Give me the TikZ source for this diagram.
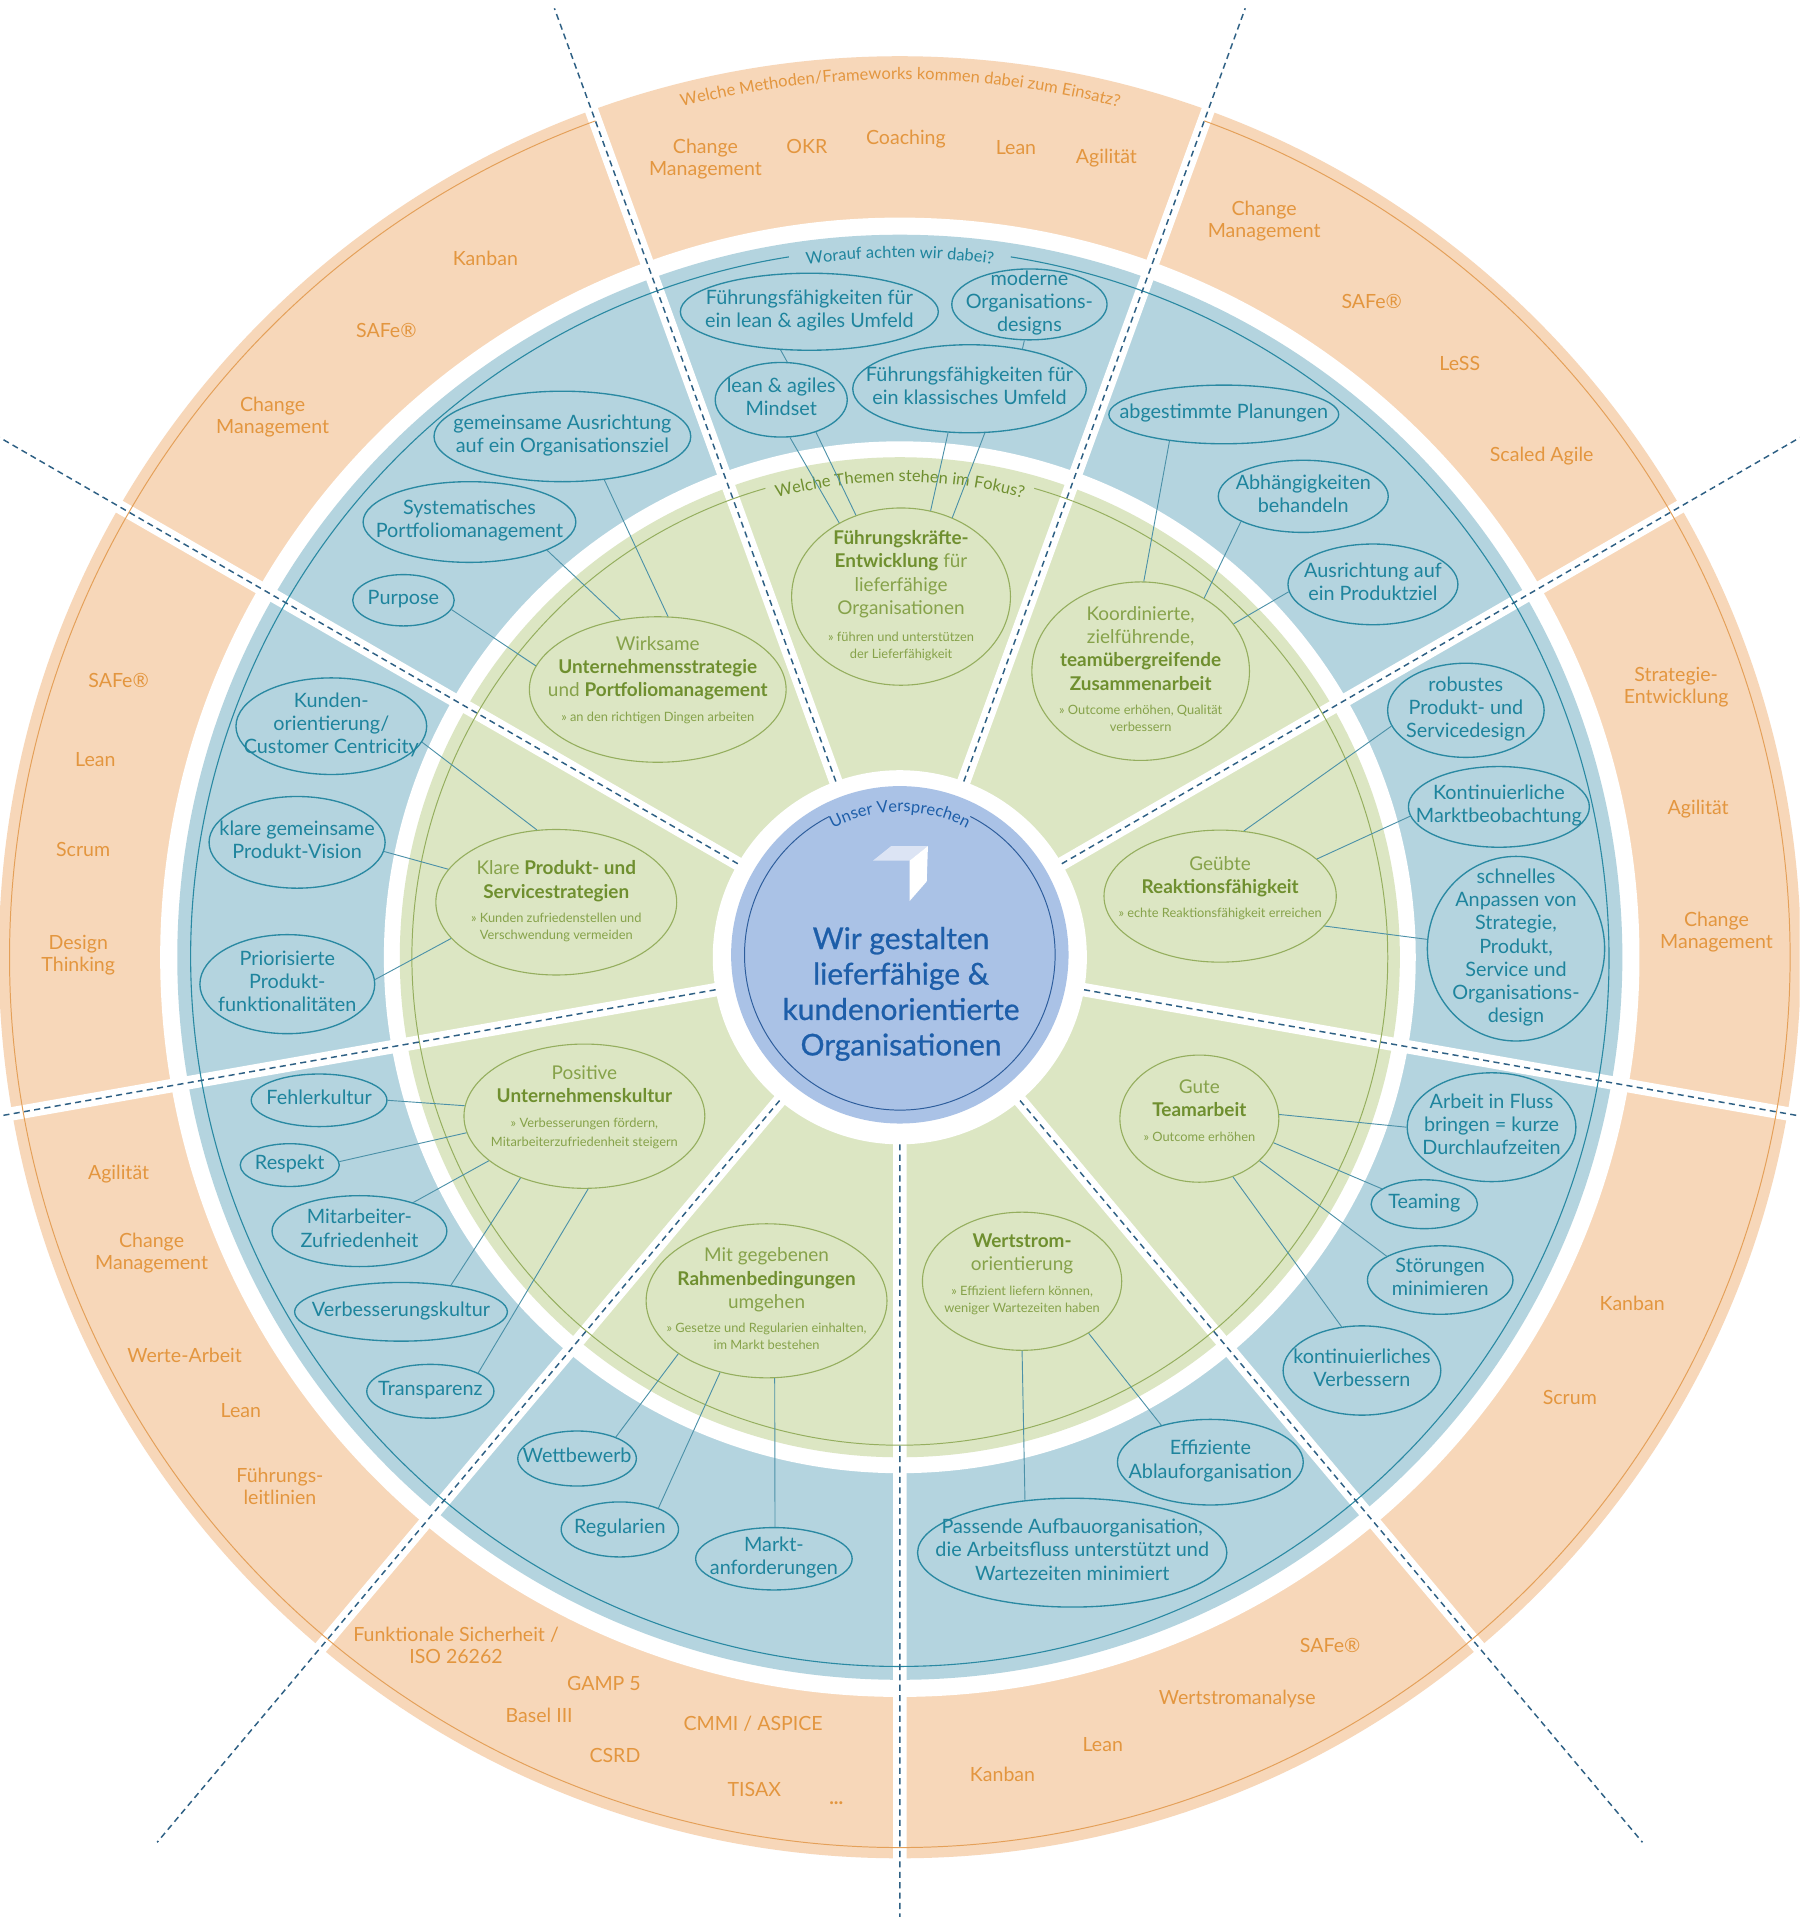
\documentclass[tikz,border=0pt]{standalone}
\usepackage{fontspec}
\setmainfont{Lato}
\usetikzlibrary{shapes.geometric,decorations.text}

\definecolor{orfill}{HTML}{F7D7B9}
\definecolor{ortext}{HTML}{E3963F}
\definecolor{orline}{HTML}{E4A059}
\definecolor{blfill}{HTML}{B4D4DF}
\definecolor{bltext}{HTML}{1E849D}
\definecolor{blline}{HTML}{2A89A2}
\definecolor{grfill}{HTML}{DCE6C3}
\definecolor{grtext}{HTML}{86A24A}
\definecolor{grbold}{HTML}{6F8F2F}
\definecolor{grline}{HTML}{95AE5E}
\definecolor{cefill}{HTML}{AAC2E6}
\definecolor{cetext}{HTML}{1D5EA9}
\definecolor{celine}{HTML}{2D5D9C}
\definecolor{logotop}{HTML}{DCE4F4}
\definecolor{dashc}{HTML}{2E6084}
\definecolor{linkc}{HTML}{4C91A8}

\newcommand\zt[2][0pt]{\makebox[0pt]{\raisebox{\dimexpr#1-.25em\relax}[0pt][0pt]{\begin{tabular}{@{}c@{}}#2\end{tabular}}}}
\newcommand\gb[1]{\textcolor{grbold}{\bfseries#1}}
\newcommand\gs[1]{{\fontsize{10.5}{14}\selectfont#1}}
\newcommand\arcfont{\fontsize{13.5}{16}\selectfont}

\tikzset{
  blob/.style={ellipse, draw=blline, line width=1.1, inner sep=0pt, text=bltext, font=\fontsize{16.2}{19}\selectfont},
  gblob/.style={ellipse, draw=grline, line width=0.9, inner sep=0pt, text=grtext, font=\fontsize{15.5}{19}\selectfont},
  otag/.style={align=center, inner sep=0pt, text=ortext, font=\fontsize{16}{18}\selectfont},
  link/.style={draw=linkc, line width=0.75},
  cut/.style={draw=white, line width=11},
  spoke/.style={draw=dashc, line width=1.2, dash pattern=on 5pt off 3.5pt},
  heading/.style 2 args={decorate, decoration={text along path, text align=center, text color=#1, text={|\arcfont|#2}}},
}

\begin{document}
\begin{tikzpicture}[x=1pt,y=1pt]
  \useasboundingbox (0,0) rectangle (1472,1568);
  \clip (0,0) rectangle (1472,1568);
  \fill[white] (0,0) rectangle (1472,1568);
  \coordinate (C) at (736,785);
  \coordinate (M) at (736,787);

  \fill[orfill] (C) circle[radius=737pt];
  \fill[white] (C) circle[radius=605pt];
  \fill[blfill] (C) circle[radius=591pt];
  \fill[white] (C) circle[radius=422pt];
  \fill[grfill] (C) circle[radius=409pt];
  \fill[white] (C) circle[radius=153pt];
  \fill[cefill] (M) circle[radius=138pt];

  \begin{scope}[shift={(C)}]
    \draw[cut] (30:150) -- (30:760) (70:150) -- (70:760) (110:150) -- (110:760) (150:150) -- (150:760) (190:150) -- (190:760)
      (230:150) -- (230:760) (270:150) -- (270:760) (310:150) -- (310:760) (350:150) -- (350:760);
    \draw[orline, line width=0.8] (110:728) arc[start angle=110, end angle=430, radius=728pt];
    \draw[blline, line width=0.9] (99:580) arc[start angle=99, end angle=441, radius=580pt];
    \draw[grline, line width=0.8] (106:399) arc[start angle=106, end angle=434, radius=399pt];
    \draw[spoke] (30:153) -- (30:900) (70:153) -- (70:826) (110:153) -- (110:826) (150:153) -- (150:900) (190:153) -- (190:900)
      (230:153) -- (230:945) (270:153) -- (270:900) (310:153) -- (310:945) (350:153) -- (350:900);
    \path[heading={ortext}{Welche Methoden/Frameworks kommen dabei zum Einsatz?}] (125:718) arc[start angle=125, end angle=55, radius=718pt];
    \path[heading={bltext}{Worauf achten wir dabei?}] (115:572) arc[start angle=115, end angle=65, radius=572pt];
    \path[heading={grbold}{Welche Themen stehen im Fokus?}] (125:389) arc[start angle=125, end angle=55, radius=389pt];
    \draw[celine, line width=0.8] (0,2) ++(117:127) arc[start angle=117, end angle=423, radius=127pt];
    \path[heading={cetext}{Unser Versprechen}] (0,2) ++(150:117) arc[start angle=150, end angle=30, radius=117pt];
  \end{scope}

  \fill[logotop] (714,864) -- (729,876) -- (759,876) -- (744,864) -- cycle;
  \fill[white] (744,864) -- (759,876) -- (758,847) -- (744,831) -- cycle;
  \node[align=center, inner sep=0pt, text=cetext, font=\fontsize{24.5}{29}\selectfont\addfontfeatures{FakeBold=0.8}] (promise) at (737,755) {Wir gestalten\\lieferfähige \&\\kundenorientierte\\Organisationen};

  \node[gblob, minimum width=179, minimum height=145] (fk) at (737,1080) {\zt{\gb{Führungskräfte-}\\\gb{Entwicklung} für\\lieferfähige\\Organisationen\\[3pt]\gs{» führen und unterstützen}\\[-5pt]\gs{der Lieferfähigkeit}}};
  \node[gblob, minimum width=178, minimum height=146] (koord) at (933,1019) {\zt{Koordinierte,\\zielführende,\\\gb{teamübergreifende}\\\gb{Zusammenarbeit}\\[1pt]\gs{» Outcome erhöhen, Qualität}\\[-5pt]\gs{verbessern}}};
  \node[gblob, minimum width=190, minimum height=108] (geuebt) at (998,835) {\zt[6pt]{Geübte\\\gb{Reaktionsfähigkeit}\\\gs{» echte Reaktionsfähigkeit erreichen}}};
  \node[gblob, minimum width=130, minimum height=104] (gute) at (981,653) {\zt[5pt]{Gute\\\gb{Teamarbeit}\\[1pt]\gs{» Outcome erhöhen}}};
  \node[gblob, minimum width=163, minimum height=113] (wert) at (836,520) {\zt[5pt]{\gb{Wertstrom-}\\orientierung\\[1pt]\gs{» Effizient liefern können,}\\[-5pt]\gs{weniger Wartezeiten haben}}};
  \node[gblob, minimum width=197, minimum height=126] (rahmen) at (627,504) {\zt{Mit gegebenen\\\gb{Rahmenbedingungen}\\umgehen\\[1pt]\gs{» Gesetze und Regularien einhalten,}\\[-5pt]\gs{im Markt bestehen}}};
  \node[gblob, minimum width=197, minimum height=118] (kultur) at (478,655) {\zt[7pt]{Positive\\\gb{Unternehmenskultur}\\[2pt]\gs{» Verbesserungen fördern,}\\[-4pt]\gs{Mitarbeiterzufriedenheit steigern}}};
  \node[gblob, minimum width=197, minimum height=119] (klare) at (455,830) {\zt{Klare \gb{Produkt- und}\\\gb{Servicestrategien}\\[1pt]\gs{» Kunden zufriedenstellen und}\\[-5pt]\gs{Verschwendung vermeiden}}};
  \node[gblob, minimum width=210, minimum height=119] (wirk) at (538,1004) {\zt[7pt]{Wirksame\\\gb{Unternehmensstrategie}\\und \gb{Portfoliomanagement}\\[1pt]\gs{» an den richtigen Dingen arbeiten}}};

  \node[blob, minimum width=211, minimum height=63] (fflean) at (662,1313) {\zt{Führungsfähigkeiten für\\ein lean \& agiles Umfeld}};
  \node[blob, minimum width=127, minimum height=58] (modern) at (842,1319) {\zt{moderne\\Organisations-\\designs}};
  \node[blob, minimum width=108, minimum height=61] (mindset) at (639,1241) {\zt{lean \& agiles\\Mindset}};
  \node[blob, minimum width=191, minimum height=72] (ffklass) at (793,1250) {\zt{Führungsfähigkeiten für\\ein klassisches Umfeld}};
  \node[blob, minimum width=188, minimum height=48] (planung) at (1001,1229) {\zt{abgestimmte Planungen}};
  \node[blob, minimum width=139, minimum height=59] (abh) at (1066,1162) {\zt{Abhängigkeiten\\behandeln}};
  \node[blob, minimum width=139, minimum height=66] (produktziel) at (1123,1090) {\zt{Ausrichtung auf\\ein Produktziel}};
  \node[blob, minimum width=128, minimum height=77] (robust) at (1199,987) {\zt{robustes\\Produkt- und\\Servicedesign}};
  \node[blob, minimum width=148, minimum height=66] (markt) at (1226,908) {\zt{Kontinuierliche\\Marktbeobachtung}};
  \node[blob, minimum width=145, minimum height=151] (anpassen) at (1240,792) {\zt{schnelles\\Anpassen von\\Strategie,\\Produkt,\\Service und\\Organisations-\\design}};
  \node[blob, minimum width=138, minimum height=89] (fluss) at (1220,646) {\zt{Arbeit in Fluss\\bringen = kurze\\Durchlaufzeiten}};
  \node[blob, minimum width=87, minimum height=40] (teaming) at (1165,583) {\zt{Teaming}};
  \node[blob, minimum width=119, minimum height=56] (stoer) at (1178,521) {\zt{Störungen\\minimieren}};
  \node[blob, minimum width=129, minimum height=73] (kvp) at (1114,447) {\zt{kontinuierliches\\Verbessern}};
  \node[blob, minimum width=152, minimum height=70] (ablauf) at (990,372) {\zt{Effiziente\\Ablauforganisation}};
  \node[blob, minimum width=253, minimum height=89] (aufbau) at (877,298) {\zt{Passende Aufbauorganisation,\\die Arbeitsfluss unterstützt und\\Wartezeiten minimiert}};
  \node[blob, minimum width=97, minimum height=45] (wettb) at (472,375) {\zt{Wettbewerb}};
  \node[blob, minimum width=96, minimum height=45] (regul) at (507,317) {\zt{Regularien}};
  \node[blob, minimum width=128, minimum height=51] (marktanf) at (633,293) {\zt{Markt-\\anforderungen}};
  \node[blob, minimum width=111, minimum height=43] (fehler) at (261,668) {\zt{Fehlerkultur}};
  \node[blob, minimum width=81, minimum height=35] (respekt) at (237,615) {\zt{Respekt}};
  \node[blob, minimum width=143, minimum height=58] (zufried) at (294,561) {\zt{Mitarbeiter-\\Zufriedenheit}};
  \node[blob, minimum width=174, minimum height=48] (verbess) at (328,495) {\zt{Verbesserungskultur}};
  \node[blob, minimum width=104, minimum height=44] (transp) at (352,430) {\zt{Transparenz}};
  \node[blob, minimum width=156, minimum height=79] (kunden) at (271,974) {\zt{Kunden-\\orientierung/\\Customer Centricity}};
  \node[blob, minimum width=144, minimum height=75] (vision) at (243,879) {\zt{klare gemeinsame\\Produkt-Vision}};
  \node[blob, minimum width=143, minimum height=81] (prior) at (235,763) {\zt{Priorisierte\\Produkt-\\funktionalitäten}};
  \node[blob, minimum width=210, minimum height=74] (orgziel) at (460,1211) {\zt{gemeinsame Ausrichtung\\auf ein Organisationsziel}};
  \node[blob, minimum width=174, minimum height=66] (portf) at (384,1141) {\zt{Systematisches\\Portfoliomanagement}};
  \node[blob, minimum width=83, minimum height=42] (purpose) at (330,1077) {\zt{Purpose}};

  \draw[link] (fflean.233) -- (mindset.81);
  \draw[link] (mindset.283) -- (fk.130);
  \draw[link] (mindset.317) -- (fk.119);
  \draw[link] (modern.262) -- (ffklass.37);
  \draw[link] (ffklass.244) -- (fk.71);
  \draw[link] (ffklass.289) -- (fk.57);
  \draw[link] (planung.206) -- (koord.88);
  \draw[link] (abh.202) -- (koord.49);
  \draw[link] (produktziel.185) -- (koord.27);
  \draw[link] (robust.192) -- (geuebt.70);
  \draw[link] (markt.186) -- (geuebt.21);
  \draw[link] (anpassen.174) -- (geuebt.344);
  \draw[link] (gute.3) -- (fluss.180);
  \draw[link] (gute.342) -- (teaming.160);
  \draw[link] (gute.325) -- (stoer.156);
  \draw[link] (gute.300) -- (kvp.115);
  \draw[link] (wert.270) -- (aufbau.132);
  \draw[link] (wert.322) -- (ablauf.143);
  \draw[link] (rahmen.211) -- (wettb.29);
  \draw[link] (rahmen.237) -- (regul.29);
  \draw[link] (rahmen.276) -- (marktanf.88);
  \draw[link] (fehler.0) -- (kultur.175);
  \draw[link] (respekt.4) -- (kultur.188);
  \draw[link] (zufried.28) -- (kultur.205);
  \draw[link] (verbess.28) -- (kultur.224);
  \draw[link] (transp.21) -- (kultur.273);
  \draw[link] (kunden.350) -- (klare.105);
  \draw[link] (vision.354) -- (klare.163);
  \draw[link] (prior.3) -- (klare.199);
  \draw[link] (orgziel.314) -- (wirk.82);
  \draw[link] (portf.340) -- (wirk.118);
  \draw[link] (purpose.349) -- (wirk.169);

  \node[otag] (t-cm) at (577,1438) {Change\\Management};
  \node[otag] (t-okr) at (660,1448) {OKR};
  \node[otag] (t-coach) at (741,1454) {Coaching};
  \node[otag] (t-lean) at (831,1447) {Lean};
  \node[otag] (t-agil) at (905,1439) {Agilität};
  \node[otag] (ur-cm) at (1034,1387) {Change\\Management};
  \node[otag] (ur-safe) at (1122,1321) {SAFe®};
  \node[otag] (ur-less) at (1194,1271) {LeSS};
  \node[otag] (ur-scaled) at (1261,1195) {Scaled Agile};
  \node[otag] (r-strat) at (1371,1006) {Strategie-\\Entwicklung};
  \node[otag] (r-agil) at (1389,906) {Agilität};
  \node[otag] (r-cm) at (1404,806) {Change\\Management};
  \node[otag] (lr-kanban) at (1335,502) {Kanban};
  \node[otag] (lr-scrum) at (1284,425) {Scrum};
  \node[otag] (br-safe) at (1088,222) {SAFe®};
  \node[otag] (br-wsa) at (1012,178) {Wertstromanalyse};
  \node[otag] (br-lean) at (902,141) {Lean};
  \node[otag] (br-kanban) at (820,117) {Kanban};
  \node[otag] (bl-iso) at (373,222) {Funktionale Sicherheit /\\ISO 26262};
  \node[otag] (bl-gamp) at (494,191) {GAMP 5};
  \node[otag] (bl-basel) at (441,165) {Basel III};
  \node[otag] (bl-cmmi) at (616,158) {CMMI / ASPICE};
  \node[otag] (bl-csrd) at (503,132) {CSRD};
  \node[otag] (bl-tisax) at (617,104) {TISAX};
  \node[otag] (bl-more) at (684,93) {\bfseries ...};
  \node[otag] (ll-agil) at (97,608) {Agilität};
  \node[otag] (ll-cm) at (124,543) {Change\\Management};
  \node[otag] (ll-werte) at (151,459) {Werte-Arbeit};
  \node[otag] (ll-lean) at (197,414) {Lean};
  \node[otag] (ll-fuehr) at (229,352) {Führungs-\\leitlinien};
  \node[otag] (l-safe) at (97,1011) {SAFe®};
  \node[otag] (l-lean) at (78,947) {Lean};
  \node[otag] (l-scrum) at (68,873) {Scrum};
  \node[otag] (l-dt) at (64,787) {Design\\Thinking};
  \node[otag] (ul-kanban) at (397,1357) {Kanban};
  \node[otag] (ul-safe) at (316,1298) {SAFe®};
  \node[otag] (ul-cm) at (223,1227) {Change\\Management};
\end{tikzpicture}
\end{document}
